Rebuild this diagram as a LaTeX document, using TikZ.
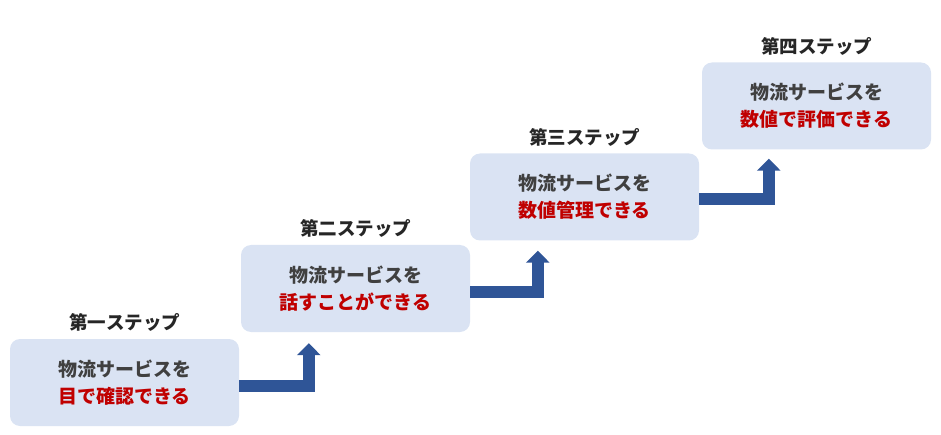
\documentclass[tikz,border=0pt]{standalone}
\usepackage{fontspec}
\setmainfont{Noto Sans CJK JP}
\usetikzlibrary{arrows.meta}
\definecolor{boxfill}{HTML}{DAE3F3}
\definecolor{arrowblue}{HTML}{2F5597}
\definecolor{textgray}{HTML}{404040}
\definecolor{textred}{HTML}{C00000}
\definecolor{titleblack}{HTML}{262626}
\begin{document}
\begin{tikzpicture}[x=1pt, y=1pt,
  stepbox/.style={fill=boxfill, rounded corners=10pt, minimum width=229pt, minimum height=87pt, inner sep=0pt, align=center, text=textgray, font=\bfseries\fontsize{19}{27}\selectfont},
  steptitle/.style={text=titleblack, font=\bfseries\fontsize{18.5}{20}\selectfont},
  steparrow/.style={draw=arrowblue, line width=12pt, -{Triangle[width=23pt, length=12pt]}}]
\useasboundingbox (0,0) rectangle (941,-435);
% the four steps, lower left to upper right
\node (step1) at (124.5,-382.5) [stepbox] {物流サービスを\\\textcolor{textred}{目で確認できる}};
\node (step2) at (355.5,-288.5) [stepbox] {物流サービスを\\\textcolor{textred}{話すことができる}};
\node (step3) at (584.5,-197) [stepbox] {物流サービスを\\\textcolor{textred}{数値管理できる}};
\node (step4) at (816.5,-106) [stepbox] {物流サービスを\\\textcolor{textred}{数値で評価できる}};
\node (title1) at ([yshift=16pt]step1.north) [steptitle] {第一ステップ};
\node (title2) at ([yshift=16pt]step2.north) [steptitle] {第二ステップ};
\node (title3) at ([yshift=16pt]step3.north) [steptitle] {第三ステップ};
\node (title4) at ([yshift=16pt]step4.north) [steptitle] {第四ステップ};
% bent arrows between steps
\draw [steparrow] ([yshift=-3pt]step1.east) -| ([xshift=68pt, yshift=-11pt]step2.south west);
\draw [steparrow] ([yshift=-3pt]step2.east) -| ([xshift=68pt, yshift=-10pt]step3.south west);
\draw [steparrow] ([yshift=-2pt]step3.east) -| ([xshift=67pt, yshift=-9pt]step4.south west);
\end{tikzpicture}
\end{document}
